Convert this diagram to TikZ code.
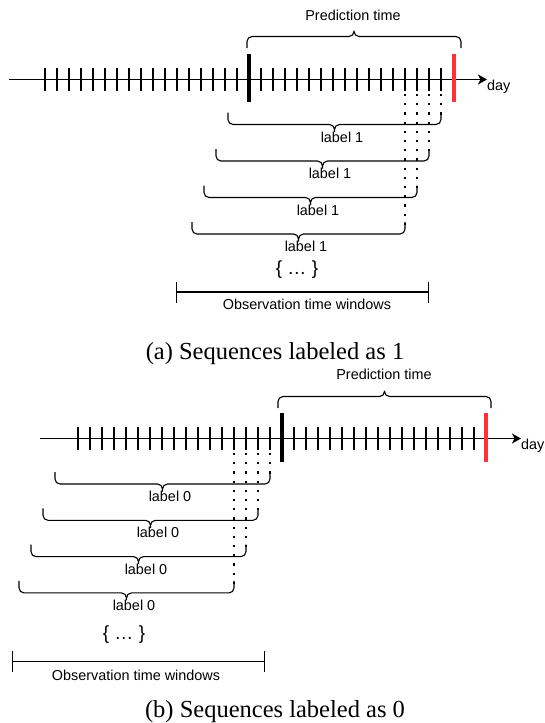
\documentclass[tikz,border=0pt]{standalone}
\usepackage{fontspec}
\setmainfont{Liberation Serif}
\setsansfont{Liberation Sans}
\usepackage{xcolor}
\usetikzlibrary{arrows.meta}
\definecolor{redmark}{RGB}{255,51,51}

\begin{document}
\begin{tikzpicture}[
    x=1pt, y=-1pt,
    axis/.style={line width=1.2pt, -{Stealth[length=9pt, width=10pt, inset=2.5pt]}},
    daytick/.style={line width=2.4pt},
    cutday/.style={line width=4pt},
    endday/.style={line width=4pt, redmark},
    curly/.style={line width=1.1pt, rounded corners=5pt},
    guide/.style={line width=2.2pt, dash pattern=on 2.2pt off 7pt},
    span/.style={line width=1.1pt, {Bar[width=21pt]}-{Bar[width=21pt]}},
    txt/.style={font=\sffamily\fontsize{14.4}{16}\selectfont, inner sep=0pt},
    more/.style={font=\sffamily\fontsize{19}{22}\selectfont, inner sep=0pt},
    caption/.style={font=\fontsize{24.5}{28}\selectfont, inner sep=0pt},
]
\useasboundingbox (0,0) rectangle (544,723);

% (a) sequences labeled as 1
\coordinate (a0) at (9,79.5);
\coordinate (a1) at (487,79.5);
\draw[axis] (a0) -- (a1);
\node[txt, anchor=west] (dayA) at (487,87) {day};
\foreach \k in {0,...,33}
  \draw[daytick] (45+12*\k,67.5) -- (45+12*\k,91);
\draw[cutday] (249,54) -- (249,102);
\draw[endday] (453.5,54) -- (453.5,102);
\draw[curly] (247,48) -- (247,36.5) -- (354,36.5) -- (354,30.5)
             (354,30.5) -- (354,36.5) -- (461,36.5) -- (461,48);
\node[txt] (predA) at (353,15) {Prediction time};
\foreach \i in {0,...,3} {
  \pgfmathsetmacro\xl{228-12*\i}
  \pgfmathsetmacro\yl{124.5+36.5*\i}
  \draw[guide] (441-12*\i,94) -- (441-12*\i,\yl-8);
  \draw[curly] (\xl,\yl-12) -- (\xl,\yl) -- (\xl+106.5,\yl) -- (\xl+106.5,\yl+7.5)
               (\xl+106.5,\yl+7.5) -- (\xl+106.5,\yl) -- (\xl+213,\yl) -- (\xl+213,\yl-12);
  \node[txt] (labA\i) at (\xl+114,\yl+12.5) {label 1};
}
\node[more] (moreA) at (297,270) {\{ … \}};
\coordinate (oA0) at (176,292);
\coordinate (oA1) at (429,292);
\draw[span] (oA0) -- (oA1);
\node[txt] (obsA) at (307,304.5) {Observation time windows};
\node[caption] (capA) at (275,354) {(a) Sequences labeled as 1};

% (b) sequences labeled as 0
\coordinate (b0) at (40,438.5);
\coordinate (b1) at (521,438.5);
\draw[axis] (b0) -- (b1);
\node[txt, anchor=west] (dayB) at (521,446) {day};
\foreach \k in {0,...,33}
  \draw[daytick] (78+12*\k,426.5) -- (78+12*\k,450);
\draw[cutday] (282,413) -- (282,461.5);
\draw[endday] (486,413) -- (486,461.5);
\draw[curly] (278,408) -- (278,396.5) -- (384.5,396.5) -- (384.5,390.5)
             (384.5,390.5) -- (384.5,396.5) -- (491,396.5) -- (491,408);
\node[txt] (predB) at (384,374.5) {Prediction time};
\foreach \i in {0,...,3} {
  \pgfmathsetmacro\xl{55-12*\i}
  \pgfmathsetmacro\yl{484+36.3*\i}
  \draw[guide] (270-12*\i,453) -- (270-12*\i,\yl-8);
  \draw[curly] (\xl,\yl-12) -- (\xl,\yl) -- (\xl+107.5,\yl) -- (\xl+107.5,\yl+7.5)
               (\xl+107.5,\yl+7.5) -- (\xl+107.5,\yl) -- (\xl+215,\yl) -- (\xl+215,\yl-12);
  \node[txt] (labB\i) at (\xl+115,\yl+12.5) {label 0};
}
\node[more] (moreB) at (124,634.5) {\{ … \}};
\coordinate (oB0) at (12,661.5);
\coordinate (oB1) at (265,661.5);
\draw[span] (oB0) -- (oB1);
\node[txt] (obsB) at (136,675) {Observation time windows};
\node[caption] (capB) at (275,711.5) {(b) Sequences labeled as 0};

\end{tikzpicture}
\end{document}
